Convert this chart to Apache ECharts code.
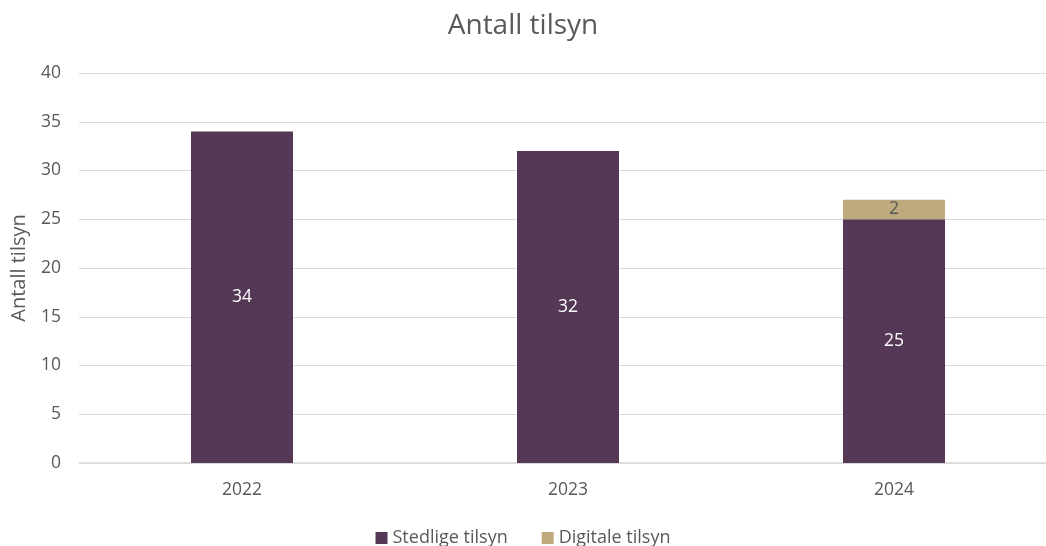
<!DOCTYPE html>
<html><head><meta charset="utf-8">
<script src="https://cdn.jsdelivr.net/npm/echarts@6/dist/echarts.min.js"></script>
<style>html,body{margin:0;padding:0;background:#fff}#c{width:1046px;height:546px}</style>
</head><body><div id="c"></div>
<script>
const categories = ['2022', '2023', '2024'];
const stedlige = [34, 32, 25];
const digitale = [null, null, 2];
const yTicks = [0, 5, 10, 15, 20, 25, 30, 35, 40];

const chart = echarts.init(document.getElementById('c'));
const font = '"Open Sans", "Noto Sans", sans-serif';
chart.setOption({
  animation: false,
  textStyle: { fontFamily: font },
  title: { text: 'Antall tilsyn', left: 'center', top: 7,
    textStyle: { fontSize: 28, fontWeight: 'normal', color: '#595959', fontFamily: font } },
  grid: { left: 79, top: 73, width: 978, height: 390, outerBoundsMode: 'none', containLabel: false },
  legend: { bottom: -6, left: 'center', itemWidth: 12, itemHeight: 12, itemGap: 34, icon: 'rect',
    textStyle: { fontSize: 18, color: '#595959', fontFamily: font },
    data: ['Stedlige tilsyn', 'Digitale tilsyn'] },
  xAxis: { type: 'category', data: categories,
    axisLine: { lineStyle: { color: '#d9d9d9', width: 1.5 } }, axisTick: { show: false },
    axisLabel: { fontSize: 17.5, color: '#595959', margin: 18, fontFamily: font } },
  yAxis: { type: 'value', min: yTicks[0], max: yTicks[yTicks.length - 1], interval: 5,
    name: 'Antall tilsyn', nameLocation: 'middle', nameGap: 50,
    nameTextStyle: { fontSize: 20, color: '#595959', fontFamily: font },
    axisLabel: { fontSize: 17.5, color: '#595959', margin: 18, fontFamily: font },
    splitLine: { lineStyle: { color: '#d9d9d9', width: 1 } } },
  series: [
    { name: 'Stedlige tilsyn', type: 'bar', stack: 't', data: stedlige, barWidth: 102,
      itemStyle: { color: '#553856' },
      label: { show: true, position: 'inside', color: '#ffffff', fontSize: 17.5, fontFamily: font } },
    { name: 'Digitale tilsyn', type: 'bar', stack: 't', data: digitale, barWidth: 102,
      itemStyle: { color: '#bfaa7e' },
      label: { show: true, position: 'inside', color: '#595959', fontSize: 17.5, fontFamily: font } }
  ]
});
</script></body></html>
